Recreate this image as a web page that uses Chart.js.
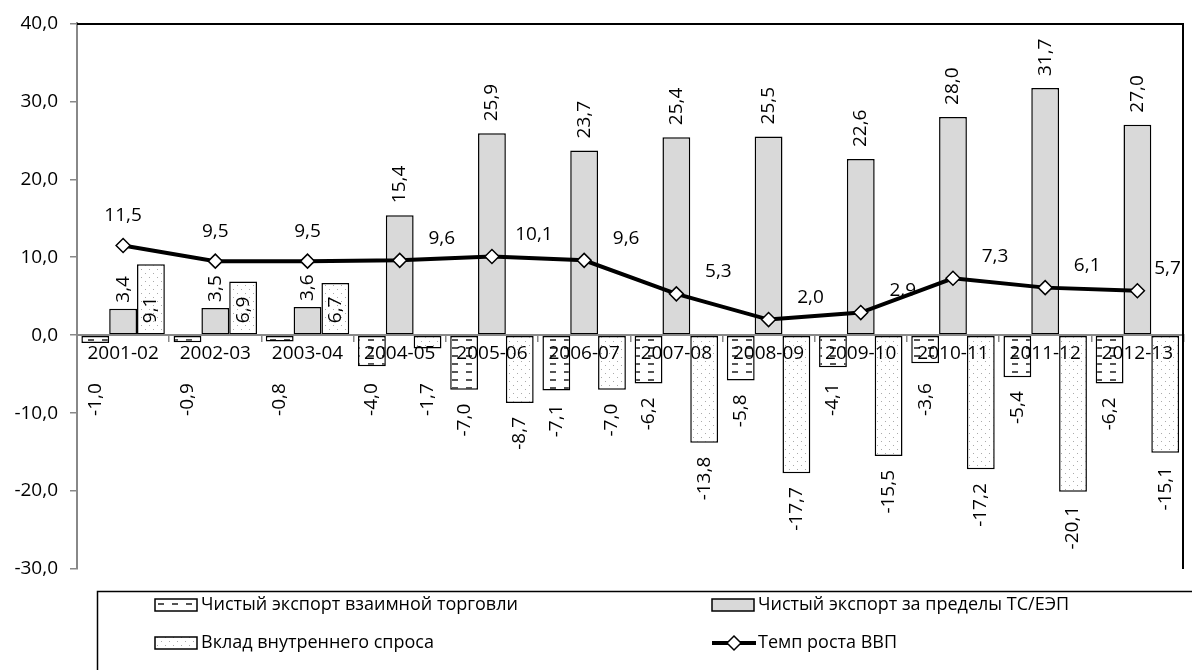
<!DOCTYPE html>
<html>
<head>
<meta charset="utf-8">
<script src="https://cdn.jsdelivr.net/npm/chart.js@4/dist/chart.umd.min.js"></script>
<style>
  body { margin: 0; background: #fff; }
  #wrap { width: 1192px; height: 670px; }
</style>
</head>
<body>
<div id="wrap"><canvas id="c" width="1192" height="670"></canvas></div>
<script>
/* global Chart */

const years = ['2001-02', '2002-03', '2003-04', '2004-05', '2005-06', '2006-07',
  '2007-08', '2008-09', '2009-10', '2010-11', '2011-12', '2012-13'];
const mutualExport = [-1.0, -0.9, -0.8, -4.0, -7.0, -7.1, -6.2, -5.8, -4.1, -3.6, -5.4, -6.2];
const outsideExport = [3.4, 3.5, 3.6, 15.4, 25.9, 23.7, 25.4, 25.5, 22.6, 28.0, 31.7, 27.0];
const domesticDemand = [9.1, 6.9, 6.7, -1.7, -8.7, -7.0, -13.8, -17.7, -15.5, -17.2, -20.1, -15.1];
const gdpGrowth = [11.5, 9.5, 9.5, 9.6, 10.1, 9.6, 5.3, 2.0, 2.9, 7.3, 6.1, 5.7];

const seriesNames = [
  'Чистый экспорт взаимной торговли',
  'Чистый экспорт за пределы ТС/ЕЭП',
  'Вклад внутреннего спроса',
  'Темп роста ВВП'
];

const FONT = '"Open Sans", "Noto Sans", sans-serif';
const fmt = v => v.toFixed(1).replace('.', ',');

function makePattern(kind) {
  const c = document.createElement('canvas');
  const g = c.getContext('2d');
  if (kind === 'dash') {
    c.width = 14; c.height = 8;
    g.fillStyle = '#fff'; g.fillRect(0, 0, 14, 8);
    g.fillStyle = '#555'; g.fillRect(4, 3, 6, 2);
  } else {
    c.width = 8; c.height = 8;
    g.fillStyle = '#fff'; g.fillRect(0, 0, 8, 8);
    g.fillStyle = '#aaa'; g.fillRect(1, 1, 1, 1); g.fillRect(5, 5, 1, 1);
  }
  return g.createPattern(c, 'repeat');
}

const dashFill = makePattern('dash');
const dotFill = makePattern('dot');
const grayFill = '#d9d9d9';

// value labels: rotated for bars, horizontal for the line
const labelPlugin = {
  id: 'valueLabels',
  afterDatasetsDraw(chart) {
    const g = chart.ctx;
    const zeroY = chart.scales.y.getPixelForValue(0);
    const right = chart.scales.x.right;
    g.save();
    g.fillStyle = '#000';
    g.font = '19px ' + FONT;
    g.textBaseline = 'middle';
    [0, 1, 2].forEach(di => {
      const ds = chart.data.datasets[di];
      chart.getDatasetMeta(di).data.forEach((el, i) => {
        const v = ds.data[i];
        g.save();
        if (v < 0) {
          g.translate(el.x, Math.max(el.y + 14, zeroY + 48));
          g.rotate(-Math.PI / 2);
          g.textAlign = 'right';
        } else if (di === 2) {
          // small positive domestic bars: label sits inside, near the base
          g.translate(el.x, zeroY - 12);
          g.rotate(-Math.PI / 2);
          g.textAlign = 'left';
        } else {
          g.translate(el.x, el.y - (v < 5 ? 6 : 12));
          g.rotate(-Math.PI / 2);
          g.textAlign = 'left';
        }
        g.fillText(fmt(v), 0, 0);
        g.restore();
      });
    });
    const line = chart.getDatasetMeta(3).data;
    g.textAlign = 'center';
    line.forEach((pt, i) => {
      const dx = i < 3 ? 0 : Math.min(42, right - pt.x - 16);
      const dy = i < 3 ? -30 : -22;
      g.fillText(fmt(gdpGrowth[i]), pt.x + dx, pt.y + dy);
    });
    g.restore();
  }
};

// plot frame (top/right) and boxed two-column legend under the plot
const legendPlugin = {
  id: 'boxLegend',
  afterDraw(chart) {
    const g = chart.ctx;
    const ys = chart.scales.y;
    const xs = chart.scales.x;
    const left = Math.round(ys.right);
    const top = Math.round(ys.top);
    const right = Math.round(xs.right);
    const bottom = Math.round(ys.bottom);
    g.save();
    g.fillStyle = '#000';
    g.fillRect(left, top, right - left, 2);
    g.fillRect(right - 2, top, 2, bottom - top);

    g.strokeStyle = '#000';
    g.lineWidth = 1.5;
    g.strokeRect(97.5, 591.5, 1200, 100);
    g.font = '18px ' + FONT;
    g.textBaseline = 'middle';
    const items = [
      { x: 155, y: 605, fill: dashFill },
      { x: 712, y: 605, fill: grayFill },
      { x: 155, y: 643, fill: dotFill },
      { x: 712, y: 643, line: true }
    ];
    items.forEach((it, i) => {
      if (it.line) {
        g.strokeStyle = '#000';
        g.lineWidth = 4;
        g.beginPath();
        g.moveTo(it.x, it.y);
        g.lineTo(it.x + 44, it.y);
        g.stroke();
        const cx = it.x + 22;
        g.beginPath();
        g.moveTo(cx, it.y - 7);
        g.lineTo(cx + 7, it.y);
        g.lineTo(cx, it.y + 7);
        g.lineTo(cx - 7, it.y);
        g.closePath();
        g.fillStyle = '#fff';
        g.fill();
        g.lineWidth = 1.5;
        g.stroke();
      } else {
        g.fillStyle = it.fill;
        g.fillRect(it.x, it.y - 6, 42, 12);
        g.strokeStyle = '#000';
        g.lineWidth = 1.5;
        g.strokeRect(it.x, it.y - 6, 42, 12);
      }
      g.fillStyle = '#000';
      g.fillText(seriesNames[i], it.x + 46, it.y);
    });
    g.restore();
  }
};

const barCommon = {
  type: 'bar',
  borderColor: '#000',
  borderWidth: 1.5,
  borderSkipped: false,
  barPercentage: 1.0,
  categoryPercentage: 0.905,
  order: 1
};

new Chart(document.getElementById('c').getContext('2d'), {
  data: {
    labels: years,
    datasets: [
      Object.assign({ label: seriesNames[0], data: mutualExport, backgroundColor: dashFill }, barCommon),
      Object.assign({ label: seriesNames[1], data: outsideExport, backgroundColor: grayFill }, barCommon),
      Object.assign({ label: seriesNames[2], data: domesticDemand, backgroundColor: dotFill }, barCommon),
      {
        type: 'line',
        label: seriesNames[3],
        data: gdpGrowth,
        borderColor: '#000',
        borderWidth: 4,
        pointStyle: 'rectRot',
        pointRadius: 7,
        pointBackgroundColor: '#fff',
        pointBorderColor: '#000',
        pointBorderWidth: 1.5,
        tension: 0,
        order: 0
      }
    ]
  },
  options: {
    responsive: false,
    animation: false,
    devicePixelRatio: 1,
    layout: { padding: { top: 22, right: 3, bottom: 101, left: 0 } },
    scales: {
      x: {
        position: { y: 0 },
        offset: true,
        grid: { z: 1, offset: true, drawOnChartArea: false, drawTicks: true, tickLength: 6, color: '#888', lineWidth: 1.5 },
        border: { z: 1, display: true, color: '#888', width: 2 },
        ticks: { z: 1, color: '#000', font: { family: FONT, size: 19 }, padding: 1, maxRotation: 0, autoSkip: false }
      },
      y: {
        min: -30,
        max: 40,
        afterFit(scale) { scale.width = 77; },
        grid: { drawOnChartArea: false, drawTicks: true, tickLength: 7, color: '#888', lineWidth: 1.5 },
        border: { display: true, color: '#888', width: 2 },
        ticks: {
          stepSize: 10,
          color: '#000',
          padding: 12,
          font: { family: FONT, size: 19 },
          callback: v => fmt(v)
        }
      }
    },
    plugins: {
      legend: { display: false },
      tooltip: { enabled: false }
    }
  },
  plugins: [labelPlugin, legendPlugin]
});
</script>
</body>
</html>
